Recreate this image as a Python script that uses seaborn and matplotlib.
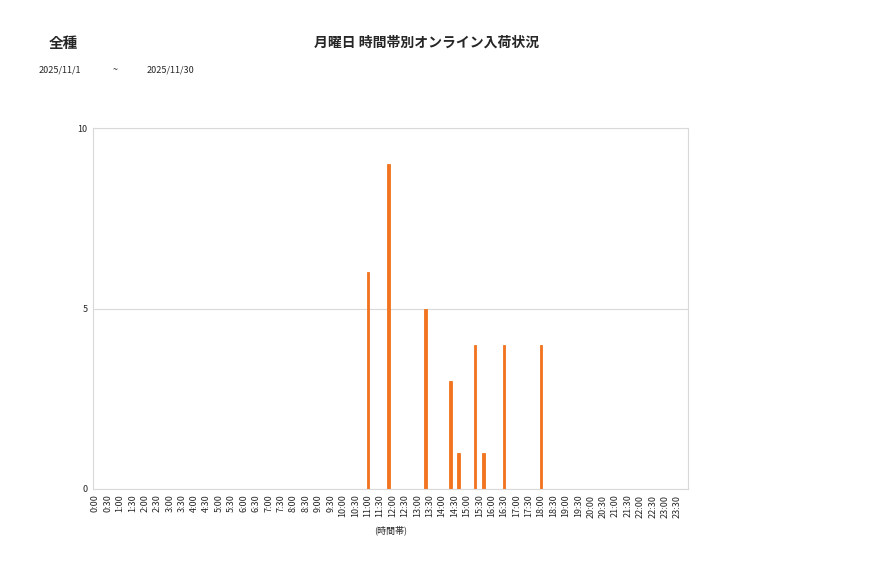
import matplotlib
matplotlib.use("Agg")
import matplotlib.pyplot as plt
import seaborn as sns
import pandas as pd

# 10-minute slots over the day
slots = [f"{h}:{m:02d}" for h in range(24) for m in range(0, 60, 10)]
# non-zero counts
hit_times = ["11:00", "11:50", "13:20", "14:20", "14:40", "15:20", "15:40", "16:30", "18:00"]
hit_counts = [6, 9, 5, 3, 1, 4, 1, 4, 4]
tick_labels = [f"{h}:{m:02d}" for h in range(24) for m in (0, 30)]

counts = [0] * len(slots)
for t, c in zip(hit_times, hit_counts):
    counts[slots.index(t)] = c
df = pd.DataFrame({"slot": slots, "count": counts})

sns.set_theme(style="white")
plt.rcParams["font.family"] = ["Noto Sans CJK JP", "DejaVu Sans"]

fig = plt.figure(figsize=(8.77, 5.78), dpi=100)
ax = fig.add_axes([0.1064, 0.154, 0.6778, 0.6245])

sns.barplot(data=df, x="slot", y="count", order=slots, color="#F27320",
            width=0.6, saturation=1, edgecolor="#F27320", linewidth=0.6, ax=ax)

ax.set_ylim(0, 10)
ax.set_xlim(-0.5, len(slots) - 0.5)
ax.set_yticks([0, 5, 10])
ax.set_yticklabels(["0", "5", "10"], fontsize=6.5)
tick_pos = [slots.index(t) for t in tick_labels]
ax.set_xticks(tick_pos)
ax.set_xticklabels(tick_labels, rotation=90, fontsize=6.5)
ax.tick_params(axis="both", length=0, pad=4)
ax.grid(axis="y", color="#d9d9d9", linewidth=0.8)
ax.set_axisbelow(True)
for s in ax.spines.values():
    s.set_color("#d9d9d9")
    s.set_linewidth(0.8)
ax.set_xlabel("(時間帯)", fontsize=6.5, labelpad=6)
ax.set_ylabel("")

fig.text(63 / 877, 1 - 43 / 578, "全種", fontsize=10.5, fontweight="bold",
         ha="center", va="center")
fig.text(427 / 877, 1 - 43 / 578, "月曜日 時間帯別オンライン入荷状況", fontsize=10,
         fontweight="bold", ha="center", va="center")
fig.text(39 / 877, 1 - 70 / 578, "2025/11/1", fontsize=6.5, ha="left", va="center")
fig.text(115 / 877, 1 - 70 / 578, "~", fontsize=6.5, ha="center", va="center")
fig.text(147 / 877, 1 - 70 / 578, "2025/11/30", fontsize=6.5, ha="left", va="center")

fig.savefig("out.png", dpi=100)
